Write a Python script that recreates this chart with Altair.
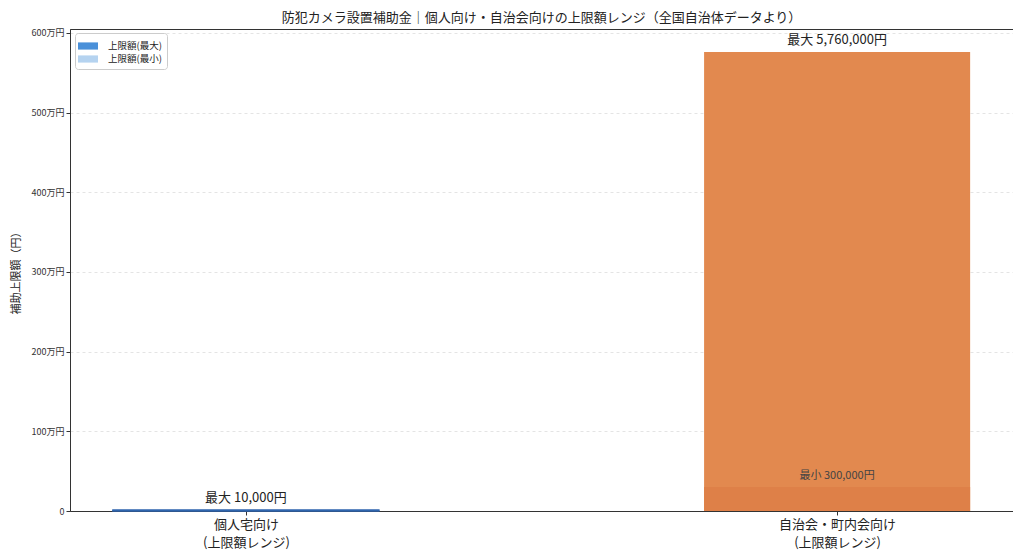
import altair as alt
import pandas as pd

# ---- data ----
categories = ["個人宅向け", "自治会・町内会向け"]
category_sub = "(上限額レンジ)"
max_values = [10000, 5760000]
min_values = [10000, 300000]
series_names = ["上限額(最大)", "上限額(最小)"]
y_ticks = [0, 1000000, 2000000, 3000000, 4000000, 5000000, 6000000]
y_top = 6048000

FONT = "Noto Sans CJK JP"
BAR_HALF = 0.225

rows = []
for i, c in enumerate(categories):
    rows.append({"idx": i, "cat": c, "series": series_names[0], "value": max_values[i], "order": 0})
    rows.append({"idx": i, "cat": c, "series": series_names[1], "value": min_values[i], "order": 1})
df = pd.DataFrame(rows)

lab = pd.DataFrame({"idx": list(range(len(categories))), "cat": categories,
                    "max": max_values, "min": min_values})

x_scale = alt.Scale(domain=[-0.2975, 1.2975], nice=False, zero=False)
y_scale = alt.Scale(domain=[0, y_top], nice=False)

label_expr = " : ".join(
    [f"datum.value == {i} ? ['{c}', '{category_sub}']" for i, c in enumerate(categories)]
) + " : ''"

x_enc = alt.X("x0:Q", scale=x_scale, title=None,
              axis=alt.Axis(values=list(range(len(categories))), labelExpr=label_expr,
                            labelFont=FONT, labelFontSize=13, labelColor="#222",
                            labelLineHeight=18, tickSize=4, tickColor="#333",
                            domain=True, domainColor="#333", grid=False, labelPadding=3))
y_enc = alt.Y("value:Q", scale=y_scale, title="補助上限額（円）",
              axis=alt.Axis(values=y_ticks,
                            labelExpr="datum.value == 0 ? '0' : format(datum.value/10000, 'd') + '万円'",
                            labelFont=FONT, labelFontSize=9, labelColor="#333",
                            tickSize=4, tickColor="#333", domain=True, domainColor="#333",
                            grid=True, gridColor="#dddddd", gridDash=[3, 3], gridWidth=0.8,
                            titleFont=FONT, titleFontSize=11, titleFontWeight="normal",
                            titleColor="#222", titleX=-54, titleY=241, titleAngle=270,
                            titleAlign="center", titleBaseline="middle"))
y2_enc = alt.Y2(datum=0)

base = alt.Chart(df).transform_calculate(
    x0=f"datum.idx - {BAR_HALF}", x1=f"datum.idx + {BAR_HALF}"
)

# Individual (blue) bars carry the legend
blue = base.transform_filter("datum.idx == 0").mark_bar(
    stroke="#2f65ad", strokeWidth=1.2
).encode(
    x=x_enc, x2="x1:Q", y=y_enc, y2=y2_enc,
    color=alt.Color("series:N",
                    scale=alt.Scale(domain=series_names, range=["#4A90D9", "#B5D3F0"]),
                    legend=alt.Legend(title=None, orient="none", legendX=5, legendY=4,
                                      symbolType="M-1.25,-0.45H1.25V0.45H-1.25Z", symbolSize=256,
                                      symbolStrokeWidth=0, labelFont=FONT, labelFontSize=9.5,
                                      labelColor="#222", fillColor="white",
                                      strokeColor="#cccccc", padding=5, cornerRadius=3,
                                      rowPadding=0, labelOffset=12)),
    order=alt.Order("order:Q"),
)

orange_max = base.transform_filter(f"datum.idx == 1 && datum.series == '{series_names[0]}'").mark_bar(
    color="#E2894F"
).encode(x=x_enc, x2="x1:Q", y=y_enc, y2=y2_enc)

orange_min = base.transform_filter(f"datum.idx == 1 && datum.series == '{series_names[1]}'").mark_bar(
    color="#DE8048"
).encode(x=x_enc, x2="x1:Q", y=y_enc, y2=y2_enc)

lab_base = alt.Chart(lab)
max_text = lab_base.transform_calculate(
    t="'最大 ' + format(datum.max, ',') + '円'"
).mark_text(font=FONT, fontSize=13, color="#222", baseline="bottom", dy=-5).encode(
    x=alt.X("idx:Q", scale=x_scale), y=alt.Y("max:Q", scale=y_scale), text="t:N"
)
min_text = lab_base.transform_filter("datum.min < datum.max").transform_calculate(
    t="'最小 ' + format(datum.min, ',') + '円'"
).mark_text(font=FONT, fontSize=11, color="#444", baseline="bottom", dy=-6).encode(
    x=alt.X("idx:Q", scale=x_scale), y=alt.Y("min:Q", scale=y_scale), text="t:N"
)

chart = alt.layer(blue, orange_max, orange_min, max_text, min_text).properties(
    width=943, height=482,
    background="white",
    title=alt.TitleParams("防犯カメラ設置補助金｜個人向け・自治会向けの上限額レンジ（全国自治体データより）",
                          font=FONT, fontSize=13, fontWeight="normal", color="#222",
                          anchor="middle", offset=5, dy=1),
    autosize=alt.AutoSizeParams(type="none"),
    padding={"left": 62, "top": 21, "right": 0, "bottom": 40},
).configure_view(stroke="#333", strokeWidth=1)

chart.save("out.html", embed_options={"renderer": "svg", "actions": False})
